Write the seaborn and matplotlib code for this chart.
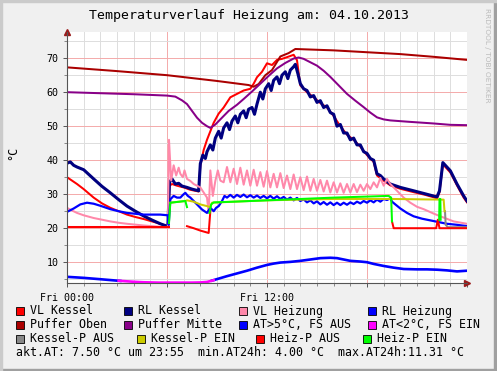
import numpy as np
import pandas as pd
import matplotlib
matplotlib.use("Agg")
import matplotlib.pyplot as plt
import matplotlib.ticker as mticker
from matplotlib.patches import Rectangle
import seaborn as sns

# ---- data (hours since Fri 00:00, temperatures in degC) ----
t_vl_kessel = [0, 0.3, 0.6, 1.0, 1.6, 2.1, 2.6, 3.1, 3.6, 4.1, 4.6, 5.1, 5.6, 6.05, 6.15, 6.3, 6.6, 7.0,
               7.4, 7.9, 8.0, 8.2, 8.4, 8.6, 8.8, 9.1, 9.4, 9.8, 10.2, 10.6, 11.0, 11.2, 11.4, 11.7, 12.0,
               12.3, 12.6, 12.9, 13.2, 13.6, 13.8, 13.9, 14.0, 14.4, 14.8, 15.2, 15.6, 16.0, 16.4, 16.8,
               17.2, 17.6, 18.0, 18.4, 18.6, 19.0, 19.4, 20.0, 20.8, 21.5, 22.2, 22.35, 22.55, 23.0, 23.4,
               23.8, 24.0]
vl_kessel = [35.0, 34.0, 33.0, 31.5, 29.0, 27.3, 26.0, 25.0, 24.0, 23.3, 22.7, 22.0, 21.3, 20.5, 32.5, 33.0,
             32.5, 32.0, 31.3, 30.8, 38.5, 43.0, 46.0, 48.5, 51.0, 53.7, 55.5, 58.5, 59.5, 60.5, 61.0, 62.5,
             64.4, 66.0, 68.5, 68.0, 69.5, 69.8, 70.3, 71.0, 69.4, 65.6, 62.0, 60.0, 58.5, 56.8, 55.5, 53.0,
             50.0, 47.5, 46.0, 44.0, 41.5, 39.5, 35.5, 34.0, 32.6, 31.6, 30.6, 29.8, 28.8, 30.6, 38.8, 36.4,
             32.6, 29.0, 27.6]

t_rl_kessel = [0, 0.2, 0.4, 0.6, 1.0, 1.6, 2.1, 2.6, 3.1, 3.6, 4.1, 4.6, 5.1, 5.6, 6.05, 6.15, 6.3, 6.5, 6.7,
               6.9, 7.2, 7.5, 7.9, 8.0, 8.15, 8.3, 8.4, 8.6, 8.75, 8.9, 9.1, 9.25, 9.4, 9.6, 9.75, 9.9, 10.1,
               10.25, 10.4, 10.6, 10.75, 10.9, 11.1, 11.25, 11.4, 11.6, 11.75, 11.9, 12.1, 12.25, 12.4, 12.6,
               12.75, 12.9, 13.1, 13.25, 13.4, 13.6, 13.7, 13.85, 14.0, 14.2, 14.4, 14.6, 14.8, 15.0, 15.2,
               15.4, 15.6, 15.8, 16.0, 16.2, 16.4, 16.6, 16.8, 17.0, 17.2, 17.4, 17.6, 17.8, 18.0, 18.2, 18.4,
               18.6, 18.8, 19.0, 19.4, 20.0, 20.8, 21.5, 22.2, 22.35, 22.55, 22.7, 23.0, 23.4, 23.8, 24.0]
rl_kessel = [39.1, 39.5, 38.5, 38.0, 37.2, 34.5, 32.3, 30.4, 28.4, 26.5, 25.0, 23.6, 22.4, 21.3, 20.5, 33.5,
             34.5, 33.0, 33.2, 32.4, 32.0, 31.5, 31.0, 39.0, 41.5, 40.5, 42.5, 44.5, 43.0, 46.5, 48.5, 46.5,
             49.5, 51.0, 49.0, 51.5, 53.0, 51.0, 53.5, 54.5, 52.5, 55.0, 55.5, 53.5, 56.5, 60.0, 58.0, 61.0,
             62.5, 60.5, 63.5, 64.5, 62.5, 65.0, 66.0, 64.0, 66.5, 67.5, 68.2, 65.5, 62.5, 61.0, 60.5, 58.6,
             59.0, 57.0, 57.5, 55.5, 56.0, 54.0, 53.5, 50.0, 50.5, 48.0, 48.0, 46.0, 46.5, 44.5, 44.5, 42.5,
             42.0, 40.5, 40.0, 36.0, 35.5, 34.5, 33.0, 32.0, 31.0, 30.1, 29.2, 31.0, 39.3, 38.5, 36.9, 33.0,
             29.5, 28.0]

t_vl_heizung = [0, 0.3, 0.6, 1.0, 1.6, 2.1, 2.6, 3.1, 3.6, 4.6, 5.6, 6.05, 6.12, 6.25, 6.4, 6.55, 6.7, 6.8,
                6.95, 7.05, 7.2, 7.4, 7.6, 7.8, 8.0, 8.2, 8.4, 8.5, 8.6, 8.75, 8.9, 9.05, 9.2, 9.4,
                9.6, 9.8, 10.0, 10.2, 10.4, 10.6, 10.8, 11.0, 11.2, 11.4, 11.6, 11.8, 12.0, 12.2, 12.4, 12.6,
                12.8, 13.0, 13.2, 13.4, 13.6, 13.8, 14.0, 14.2, 14.4, 14.6, 14.8, 15.0, 15.2, 15.4, 15.6,
                15.8, 16.0, 16.2, 16.4, 16.6, 16.8, 17.0, 17.2, 17.4, 17.6, 17.8, 18.0, 18.2, 18.4, 18.6,
                18.8, 19.0, 19.2, 19.4, 19.6, 19.8, 20.2, 20.6, 21.0, 21.4, 22.0, 22.4, 23.2, 24.0]
vl_heizung = [26.0, 25.2, 24.5, 23.8, 23.0, 22.5, 22.0, 21.6, 21.3, 20.8, 20.4, 20.2, 46.0, 34.0, 38.5, 35.5,
              37.8, 36.0, 35.0, 37.0, 34.5, 33.9, 33.0, 32.5, 32.0, 30.5, 29.0, 24.5, 37.0, 29.5, 33.9, 37.0,
              34.0, 33.5,
              38.0, 33.5, 37.5, 33.0, 37.8, 32.8, 37.0, 32.5, 37.2, 32.5, 36.5, 32.2, 36.8, 32.0, 36.0, 32.0,
              36.2, 31.8, 35.5, 31.5, 35.8, 31.5, 35.0, 31.2, 35.2, 31.0, 34.5, 31.0, 34.2, 30.8, 34.0,
              30.5, 33.5, 30.5, 33.2, 30.4, 33.0, 30.5, 33.0, 30.6, 32.8, 31.0, 33.0, 31.5, 33.5, 32.0,
              34.8, 32.5, 34.5, 33.0, 32.0, 31.0, 29.0, 27.5, 26.3, 25.6, 24.3, 23.5, 22.0, 21.3]

t_rl_heizung = [0, 0.4, 0.8, 1.2, 1.6, 2.0, 2.6, 3.1, 3.6, 4.6, 5.6, 6.05, 6.1, 6.2, 6.4, 6.6, 6.8, 7.0, 7.1,
                7.25, 7.4, 7.6, 7.8, 8.1, 8.4, 8.6, 8.8, 8.95, 9.1, 9.3, 9.45,
                9.6, 9.8, 10.0, 10.2, 10.4, 10.6, 10.8, 11.0, 11.2, 11.4, 11.6, 11.8, 12.0, 12.2, 12.4, 12.6,
                12.8, 13.0, 13.2, 13.4, 13.6, 13.8, 14.0, 14.2, 14.4, 14.6, 14.8, 15.0, 15.2, 15.4, 15.6,
                15.8, 16.0, 16.2, 16.4, 16.6, 16.8, 17.0, 17.2, 17.4, 17.6, 17.8, 18.0, 18.2, 18.4, 18.6,
                18.8, 19.0, 19.2, 19.4, 19.5, 19.7, 20.0, 20.4, 20.8, 21.3, 21.8, 22.3, 22.8, 23.4, 24.0]
rl_heizung = [24.8, 25.8, 27.0, 27.5, 27.2, 26.6, 25.6, 25.0, 24.5, 24.0, 24.0, 23.8, 21.0, 28.5, 29.5, 29.0,
              29.0, 30.0, 30.4, 29.5, 29.0, 28.0, 27.0, 25.5, 24.5, 26.0, 25.0, 26.0, 26.5, 28.0, 29.5,
              29.0, 29.8, 29.0, 29.8, 29.2, 29.9, 29.1, 29.7, 29.0, 29.6, 28.9, 29.5, 28.8, 29.5, 28.7, 29.4,
              28.6, 29.2, 28.4, 29.0, 28.2, 28.9, 28.0, 28.5, 27.6, 28.2, 27.3, 27.9, 27.0, 27.7, 26.9,
              27.6, 26.8, 27.5, 26.8, 27.5, 26.9, 27.6, 27.1, 27.8, 27.3, 28.0, 27.5, 28.2, 27.6, 28.4,
              27.8, 28.6, 28.3, 28.8, 27.8, 27.0, 25.8, 24.5, 23.5, 22.8, 22.3, 21.8, 21.3, 21.0, 20.6]

t_puffer_oben = [0, 3, 6, 9, 10.9, 11.2, 11.5, 11.9, 12.3, 12.8, 13.3, 13.7, 16, 20, 22, 24]
puffer_oben = [67.3, 66.2, 65.0, 63.3, 62.1, 61.6, 62.4, 65.0, 66.5, 70.5, 71.5, 72.7, 72.3, 71.2, 70.4, 69.5]

t_puffer_mitte = [0, 2, 4, 6, 6.5, 6.9, 7.2, 7.5, 7.8, 8.1, 8.4, 8.6, 8.9, 9.3, 9.7, 10.2, 10.6, 11.1, 11.6,
                  12.1, 12.6, 13.1, 13.6, 13.9, 14.2, 14.6, 15.0, 15.4, 15.8, 16.3, 16.8, 17.3, 17.8, 18.2,
                  18.6, 19.0, 19.4, 20.5, 22, 23, 24]
puffer_mitte = [60.0, 59.7, 59.4, 59.0, 58.7, 57.6, 56.5, 54.5, 52.5, 51.0, 50.0, 49.5, 50.5, 52.5, 54.5, 56.3,
                58.0, 60.2, 62.5, 64.8, 67.0, 68.6, 69.9, 70.2, 69.8, 68.8, 67.8, 66.3, 64.5, 62.0, 59.5, 57.5,
                55.6, 54.0, 52.6, 52.0, 51.7, 51.3, 50.8, 50.4, 50.3]

# outdoor temperature, split in warm (>5) and cold (<2, frost protection) parts
t_at_warm = [[0, 1, 2, 3.2],
             [8.7, 9.6, 10.2, 10.8, 11.4, 12.0, 12.4, 12.8, 13.4, 14, 14.6, 15.2, 15.8, 16.2, 16.6, 17, 17.6,
              18, 18.4, 19, 19.6, 20.2, 21, 21.6, 22.2, 22.8, 23.4, 24]]
at_warm = [[5.7, 5.4, 5.0, 4.5],
           [4.6, 5.9, 6.7, 7.5, 8.4, 9.2, 9.6, 9.9, 10.1, 10.4, 10.8, 11.2, 11.31, 11.2, 10.8, 10.4, 10.2,
            10.0, 9.5, 8.9, 8.4, 8.0, 7.9, 7.9, 7.8, 7.6, 7.3, 7.5]]
t_at_cold = [3.1, 4.0, 4.6, 5.5, 6.6, 7.5, 8.0, 8.4, 8.8]
at_cold = [4.55, 4.25, 4.1, 4.0, 4.0, 4.0, 4.05, 4.2, 4.7]

# pump status traces (segments)
t_kessel_p_aus = [[0, 6.1], [22.68, 22.72, 22.85, 24]]
kessel_p_aus = [[20.5, 20.5], [25.0, 21.0, 20.3, 20.3]]
t_kessel_p_ein = [[6.2, 7.1, 7.2, 7.6, 8.0, 8.4, 8.6, 8.7, 10, 12, 14, 16, 18, 19.5, 22.6, 22.65]]
kessel_p_ein = [[27.5, 28.0, 28.2, 27.8, 27.0, 26.5, 26.2, 27.5, 27.8, 28.2, 28.4, 28.6, 28.6, 28.6, 28.4, 25.0]]
t_heiz_p_aus = [[0, 6.1], [7.2, 7.6, 8.0, 8.5, 8.6], [19.5, 19.6, 22.15, 22.25, 22.35, 24]]
heiz_p_aus = [[20.5, 20.5], [20.6, 20.0, 19.3, 18.6, 25.0], [22.0, 20.0, 20.0, 22.5, 20.0, 20.0]]
t_heiz_p_ein = [[6.12, 6.2, 7.1, 7.2],
                [8.55, 8.65, 8.8, 10, 12, 14, 16, 18, 19.3, 19.45, 19.5],
                [22.33, 22.35, 22.4, 22.42]]
heiz_p_ein = [[21.5, 27.5, 28.0, 26.2],
              [24.5, 27.0, 27.6, 27.8, 28.2, 28.6, 29.0, 29.3, 29.5, 29.0, 22.0],
              [22.5, 28.6, 28.6, 22.5]]

legend_rows = [
    [("VL Kessel", "#FF0000"), ("RL Kessel", "#000080"), ("VL Heizung", "#FF88AA"), ("RL Heizung", "#0000FF")],
    [("Puffer Oben", "#AA0000"), ("Puffer Mitte", "#880088"), ("AT>5°C, FS AUS", "#0000FF"),
     ("AT<2°C, FS EIN", "#FF00FF")],
    [("Kessel-P AUS", "#888888"), ("Kessel-P EIN", "#CCCC00"), ("Heiz-P AUS", "#FF0000"),
     ("Heiz-P EIN", "#00FF00")],
]
summary = "akt.AT: 7.50 °C um 23:55  min.AT24h: 4.00 °C  max.AT24h:11.31 °C"

plt.rcParams['font.family'] = ['DejaVu Sans Mono', 'DejaVu Sans']

W, H = 497, 371
fig = plt.figure(figsize=(W / 100, H / 100), dpi=100, facecolor="#F0F0F0")
ax = fig.add_axes([67 / W, 1 - 283.3 / H, 400 / W, (283.3 - 32) / H])
ax.set_facecolor("white")


def line(x, y, color, lw):
    sns.lineplot(x=x, y=y, ax=ax, color=color, linewidth=lw, estimator=None, sort=False,
                 legend=False, solid_joinstyle="round")


line(t_vl_kessel, vl_kessel, "#FF0000", 1.45)
line(t_rl_kessel, rl_kessel, "#000080", 2.2)
line(t_vl_heizung, vl_heizung, "#FF88AA", 1.45)
line(t_rl_heizung, rl_heizung, "#0000FF", 1.6)
line(t_puffer_oben, puffer_oben, "#AA0000", 1.45)
line(t_puffer_mitte, puffer_mitte, "#880088", 1.45)
for tx, vy in zip(t_at_warm, at_warm):
    line(tx, vy, "#0000FF", 1.9)
line(t_at_cold, at_cold, "#FF00FF", 1.9)
for tx, vy in zip(t_kessel_p_aus, kessel_p_aus):
    line(tx, vy, "#888888", 1.45)
for tx, vy in zip(t_kessel_p_ein, kessel_p_ein):
    line(tx, vy, "#CCCC00", 1.45)
for tx, vy in zip(t_heiz_p_aus, heiz_p_aus):
    line(tx, vy, "#FF0000", 1.45)
for tx, vy in zip(t_heiz_p_ein, heiz_p_ein):
    line(tx, vy, "#00FF00", 1.45)

ax.set_xlim(0, 24)
ax.set_ylim(3.8, 77.7)
ax.xaxis.set_major_locator(mticker.MultipleLocator(6))
ax.xaxis.set_minor_locator(mticker.MultipleLocator(1))
ax.yaxis.set_major_locator(mticker.MultipleLocator(10))
ax.yaxis.set_minor_locator(mticker.MultipleLocator(5))
ax.xaxis.set_major_formatter(mticker.FuncFormatter(
    lambda v, p: {0: "Fri 00:00", 12: "Fri 12:00"}.get(int(round(v)), "")))
ax.set_axisbelow(True)
ax.grid(which="minor", color="#DDDDDD", linewidth=0.7)
ax.grid(which="major", color="#F4AAAA", linewidth=0.7)
for s in ["top", "right"]:
    ax.spines[s].set_visible(False)
for s in ["left", "bottom"]:
    ax.spines[s].set_color("#555555")
    ax.spines[s].set_linewidth(0.8)
ax.tick_params(which="major", length=3, width=0.7, color="#555555", labelsize=7.2, pad=3)
ax.tick_params(which="minor", length=2, width=0.6, color="#777777")
ax.tick_params(axis="x", pad=4)
ax.set_xlabel("")
ax.set_ylabel("")

# axis arrows
ax.plot([0], [77.7], marker="^", color="#9B1C1C", markersize=4, clip_on=False)
ax.plot([24], [3.8], marker=">", color="#9B1C1C", markersize=4, clip_on=False)

fig.text(249 / W, 1 - 16 / H, "Temperaturverlauf Heizung am: 04.10.2013", ha="center", va="center",
         fontsize=9.5)
fig.text(12.5 / W, 1 - 153 / H, "°C", rotation=90, ha="center", va="center", fontsize=8.5)
fig.text(487 / W, 1 - 8 / H, "RRDTOOL / TOBI OETIKER", rotation=270, ha="center", va="top",
         fontsize=5.3, color="#BBBBBB", family="DejaVu Sans")

# legend (rrdtool style)
row_y = [311, 325, 339]
box_x = [[16, 124, 239, 368], [16, 124, 239, 368], [16, 137, 256, 363]]
for r, row in enumerate(legend_rows):
    for c, (label, col) in enumerate(row):
        bx = box_x[r][c]
        fig.patches.append(Rectangle((bx / W, 1 - (row_y[r] + 4) / H), 8 / W, 8 / H,
                                     transform=fig.transFigure, facecolor=col, edgecolor="black",
                                     linewidth=0.6))
        fig.text((bx + 14) / W, 1 - row_y[r] / H, label, ha="left", va="center", fontsize=8.4)
fig.text(16 / W, 1 - 353 / H, summary, ha="left", va="center", fontsize=8.4)

# frame shading
fig.patches.append(Rectangle((0, 0), 1, 2 / H, transform=fig.transFigure, color="#A0A0A0"))
fig.patches.append(Rectangle((1 - 3 / W, 0), 3 / W, 1, transform=fig.transFigure, color="#A0A0A0"))
fig.patches.append(Rectangle((0, 1 - 2 / H), 1, 2 / H, transform=fig.transFigure, color="#CBCBCB"))
fig.patches.append(Rectangle((0, 0), 2 / W, 1, transform=fig.transFigure, color="#CBCBCB"))

fig.savefig("out.png", dpi=100, facecolor=fig.get_facecolor())
